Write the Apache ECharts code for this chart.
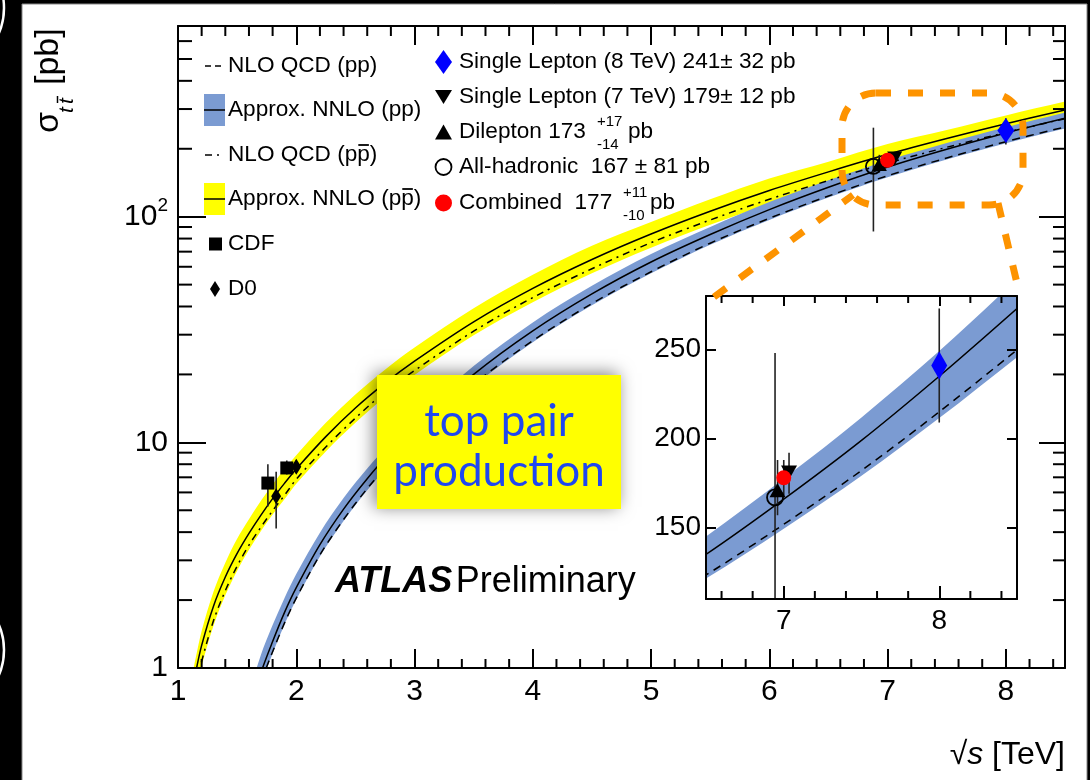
<!DOCTYPE html>
<html><head><meta charset="utf-8">
<script src="https://cdn.jsdelivr.net/npm/echarts@6/dist/echarts.min.js"></script>
<style>html,body{margin:0;padding:0;background:#000;}#c{width:1090px;height:780px;}</style>
</head><body><div id="c"></div>
<script>
// ---------------- data ----------------
const ppX       = [1.6, 1.7, 1.8, 1.9, 2.0, 2.2, 2.4, 2.6, 2.8, 3.0, 3.5, 4.0, 4.5, 5.0, 5.5, 6.0, 6.5, 7.0, 7.5, 8.0, 8.5];
const ppNNLO    = [0.64, 0.95, 1.31, 1.76, 2.27, 3.52, 5.06, 6.9, 9.1, 11.7, 20.0, 31.2, 45.5, 63.0, 83.4, 107.5, 135, 166, 199, 235, 273];
const ppNNLOUp  = [0.77, 1.14, 1.55, 2.04, 2.61, 3.98, 5.67, 7.66, 10.0, 12.9, 21.8, 34.0, 49.4, 68.4, 90.1, 116.1, 145.1, 177.6, 211.9, 249.1, 289.4];
const ppNNLODn  = [0.57, 0.84, 1.16, 1.56, 2.01, 3.12, 4.48, 6.14, 8.10, 10.4, 17.8, 27.8, 40.5, 56.1, 75.1, 96.8, 121.5, 149.4, 179.1, 211.5, 245.7];
const ppNLO     = [0.58, 0.86, 1.18, 1.58, 2.04, 3.17, 4.55, 6.24, 8.24, 10.6, 18.1, 28.2, 41.2, 57.0, 76.3, 98.4, 123.5, 151.9, 182.1, 215.0, 249.8];

const ppbarX      = [1.1, 1.15, 1.2, 1.3, 1.4, 1.5, 1.6, 1.7, 1.8, 1.9, 2.0, 2.25, 2.5, 2.75, 3.0, 3.5, 4.0, 4.5, 5.0, 5.5, 6.0, 6.5, 7.0, 7.5, 8.0, 8.5];
const ppbarNNLO   = [0.71, 0.96, 1.26, 1.88, 2.53, 3.22, 3.95, 4.75, 5.63, 6.58, 7.62, 10.6, 14.2, 18.3, 22.9, 34.2, 48.1, 64.6, 83.8, 105.7, 130.6, 158, 189, 222, 258, 297];
const ppbarNNLOUp = [0.82, 1.11, 1.46, 2.18, 2.93, 3.74, 4.56, 5.49, 6.50, 7.60, 8.76, 12.2, 16.3, 21.0, 26.3, 39.3, 55.3, 74.3, 94.7, 119.4, 147.6, 175.4, 209.8, 242.0, 281.2, 323.7];
const ppbarNNLODn = [0.57, 0.77, 1.02, 1.54, 2.10, 2.70, 3.34, 4.04, 4.79, 5.59, 6.55, 9.12, 12.2, 15.9, 19.9, 29.8, 41.8, 56.2, 72.9, 92.0, 113.6, 137.5, 164.4, 193.1, 224.5, 258.4];
const ppbarNLO    = [0.60, 0.82, 1.07, 1.62, 2.20, 2.83, 3.50, 4.20, 4.98, 5.82, 6.86, 9.54, 12.8, 16.7, 20.8, 31.1, 43.8, 58.8, 76.7, 96.7, 119.5, 144.6, 172.9, 203.1, 236.1, 271.8];

const cdfX = [1.76, 1.92], cdfY = [6.6, 7.7], cdfLo = [5.2, 7.2], cdfHi = [8.0, 8.3];
const d0X  = [1.83, 2.0],  d0Y  = [5.77, 7.8], d0Lo = [4.15, 7.3], d0Hi = [7.4, 8.3];

// ATLAS: 0 SL 8TeV, 1 SL 7TeV, 2 dilepton, 3 all-hadronic, 4 combined
const atlasXMain  = [8.0, 7.06, 6.93, 6.88, 7.0];
const atlasXInset = [8.0, 7.034, 6.96, 6.944, 7.0];
const atlasY      = [241, 181, 171, 167, 178];
const atlasLo     = [209, 169, 157, 86, 168];
const atlasHi     = [273, 192, 188, 248, 188];

const theoryLegend = ['NLO QCD (pp)', 'Approx. NNLO (pp)', 'NLO QCD (pp)', 'Approx. NNLO (pp)', 'CDF', 'D0'];
const atlasLegend  = ['Single Lepton (8 TeV) 241\u00b1 32 pb', 'Single Lepton (7 TeV) 179\u00b1 12 pb', 'Dilepton 173', 'All-hadronic  167 \u00b1 81 pb', 'Combined  177'];
const asymErr      = [['+17', '-14'], ['+11', '-10']];
const xTickLabels  = [1, 2, 3, 4, 5, 6, 7, 8];

// ---------------- helpers ----------------
const FONT = 'Liberation Sans';
const LGF = 22.6;
const BLUE = '#7b9bd2', YELLOW = '#ffff00', ORANGE = '#fd9300';
const SM = 0.33;
const zip = (xs, ys) => xs.map((x, i) => [x, ys[i]]);
const mctx = document.createElement('canvas').getContext('2d');
function tw(s, size) { mctx.font = size + 'px "' + FONT + '"'; return mctx.measureText(s).width; }
function clipOf(cs) { return {type: 'rect', shape: {x: cs.x, y: cs.y, width: cs.width, height: cs.height}}; }

function band(xi, yi, xs, up, dn, color, z) {
  return {type: 'custom', xAxisIndex: xi, yAxisIndex: yi, z, silent: true,
    data: [[xs[xs.length - 1], up[up.length - 1]]],
    renderItem: (params, api) => {
      const n = xs.length, pts = [];
      const u = xs.map((x, i) => api.coord([x, up[i]]));
      const d = xs.map((x, i) => api.coord([x, dn[i]]));
      pts.push(u[0]);
      for (let i = 0; i < n; i++) pts.push(u[i]);
      pts.push(u[n - 1]);
      pts.push(d[n - 1]);
      for (let i = n - 1; i >= 0; i--) pts.push(d[i]);
      pts.push(d[0]);
      return {type: 'polygon', shape: {points: pts, smooth: SM}, style: {fill: color}, clipPath: clipOf(params.coordSys)};
    }};
}
function curve(xi, yi, xs, ys, dash, z) {
  return {type: 'custom', xAxisIndex: xi, yAxisIndex: yi, z, silent: true,
    data: [[xs[xs.length - 1], ys[ys.length - 1]]],
    renderItem: (params, api) => ({type: 'polyline',
      shape: {points: xs.map((x, i) => api.coord([x, ys[i]])), smooth: SM},
      style: {stroke: '#000', lineWidth: 1.5, fill: null, lineDash: dash},
      clipPath: clipOf(params.coordSys)})};
}
function errs(xi, yi, xs, lo, hi, z) {
  return {type: 'custom', xAxisIndex: xi, yAxisIndex: yi, z, silent: true,
    data: xs.map((x, i) => [x, lo[i], hi[i]]), encode: {x: 0, y: [1, 2]},
    renderItem: (params, api) => {
      const a = api.coord([api.value(0), api.value(1)]);
      const b = api.coord([api.value(0), api.value(2)]);
      return {type: 'line', shape: {x1: a[0], y1: a[1], x2: b[0], y2: b[1]},
        style: {stroke: '#222', lineWidth: 1.6}, clipPath: clipOf(params.coordSys)};
    }};
}
function marks(xi, yi, data, symbol, size, color, border, rot, z) {
  return {type: 'scatter', xAxisIndex: xi, yAxisIndex: yi, z, silent: true, data, symbol, symbolSize: size,
    symbolRotate: rot || 0,
    itemStyle: {color, borderColor: border ? '#000' : color, borderWidth: border ? 1.8 : 0, opacity: 1}};
}
function minorTicks(xi, yi, xVals, yVals, xExt, yExt, L, z) {
  return {type: 'custom', xAxisIndex: xi, yAxisIndex: yi, z, silent: true, data: [[xExt[0], yExt[0]]],
    renderItem: (params, api) => {
      const st = {stroke: '#000', lineWidth: 2};
      const ch = [];
      xVals.forEach(v => {
        const b = api.coord([v, yExt[0]]), t = api.coord([v, yExt[1]]);
        ch.push({type: 'line', shape: {x1: b[0], y1: b[1], x2: b[0], y2: b[1] - L.b}, style: st});
        ch.push({type: 'line', shape: {x1: t[0], y1: t[1], x2: t[0], y2: t[1] + L.t}, style: st});
      });
      yVals.forEach(v => {
        const l = api.coord([xExt[0], v]), r = api.coord([xExt[1], v]);
        ch.push({type: 'line', shape: {x1: l[0], y1: l[1], x2: l[0] + L.l, y2: l[1]}, style: st});
        ch.push({type: 'line', shape: {x1: r[0], y1: r[1], x2: r[0] - L.r, y2: r[1]}, style: st});
      });
      return {type: 'group', children: ch};
    }};
}

// minor tick values (axis decoration)
const mainXMinor = []; for (let k = 6; k <= 42; k++) if (k % 5) mainXMinor.push(k / 5);
const mainYMinor = []; [1, 10, 100].forEach(d => { for (let m = 2; m <= 9; m++) if (m * d <= 700) mainYMinor.push(m * d); });
const insetXMinor = []; for (let k = 33; k <= 42; k++) if (k % 5) insetXMinor.push(k / 5);

const axLine = {onZero: false, lineStyle: {color: '#000', width: 2}};
const intFmt = v => (Math.abs(v - Math.round(v)) < 1e-9 && xTickLabels.indexOf(Math.round(v)) >= 0) ? String(Math.round(v)) : '';
const logFmt = v => {
  const e = Math.log10(v), r = Math.round(e);
  if (Math.abs(e - r) > 1e-6) return '';
  if (r === 0) return '{b|1}';
  if (r === 1) return '{b|10}';
  return '{b|10}{s|' + r + '}';
};

// ---------------- series ----------------
const series = [
  band(0, 0, ppbarX, ppbarNNLOUp, ppbarNNLODn, YELLOW, 2),
  band(0, 0, ppX, ppNNLOUp, ppNNLODn, BLUE, 2),
  curve(0, 0, ppbarX, ppbarNNLO, null, 2),
  curve(0, 0, ppbarX, ppbarNLO, [7, 5, 2, 5], 2),
  curve(0, 0, ppX, ppNNLO, null, 2),
  curve(0, 0, ppX, ppNLO, [8, 6], 2),
  errs(0, 0, cdfX.concat(d0X), cdfLo.concat(d0Lo), cdfHi.concat(d0Hi), 2),
  marks(0, 0, zip(cdfX, cdfY), 'rect', 13, '#000', false, 0, 2),
  marks(0, 0, zip(d0X, d0Y), 'diamond', [10, 16], '#000', false, 0, 2),
  errs(0, 0, atlasXMain, atlasLo, atlasHi, 2),
  marks(0, 0, [[atlasXMain[1], atlasY[1]]], 'triangle', [15, 14], '#000', false, 180, 2),
  marks(0, 0, [[atlasXMain[2], atlasY[2]]], 'triangle', [15, 14], '#000', false, 0, 2),
  marks(0, 0, [[atlasXMain[3], atlasY[3]]], 'circle', 15, 'rgba(0,0,0,0)', true, 0, 2),
  marks(0, 0, [[atlasXMain[4], atlasY[4]]], 'circle', 15, '#ff0000', false, 0, 2),
  marks(0, 0, [[atlasXMain[0], atlasY[0]]], 'diamond', [17, 25], '#0000ff', false, 0, 2),
  minorTicks(0, 0, mainXMinor, mainYMinor, [1, 8.5], [1, 700], {b: 9, t: 10, l: 14, r: 12}, 3),
  // inset
  band(2, 2, ppX, ppNNLOUp, ppNNLODn, BLUE, 8),
  curve(2, 2, ppX, ppNNLO, null, 8),
  curve(2, 2, ppX, ppNLO, [8, 6], 8),
  errs(2, 2, atlasXInset, atlasLo, atlasHi, 9),
  marks(2, 2, [[atlasXInset[1], atlasY[1]]], 'triangle', [16, 14], '#000', false, 180, 9),
  marks(2, 2, [[atlasXInset[2], atlasY[2]]], 'triangle', [16, 14], '#000', false, 0, 9),
  marks(2, 2, [[atlasXInset[3], atlasY[3]]], 'circle', 16, 'rgba(0,0,0,0)', true, 0, 9),
  marks(2, 2, [[atlasXInset[4], atlasY[4]]], 'circle', 15, '#ff0000', false, 0, 9),
  marks(2, 2, [[atlasXInset[0], atlasY[0]]], 'diamond', [16, 28], '#0000ff', false, 0, 9),
  minorTicks(2, 2, insetXMinor, [], [6.5, 8.5], [110, 280], {b: 8, t: 7, l: 0, r: 0}, 11)
];

// ---------------- graphics ----------------
const T = (x, y, text, size, extra) => Object.assign({type: 'text', x, y, z: 20,
  style: Object.assign({text, fontSize: size, fontFamily: FONT, fill: '#000', verticalAlign: 'middle', align: 'left'}, (extra || {}))});
const L = (x1, y1, x2, y2, st, z) => ({type: 'line', z: z || 20, shape: {x1, y1, x2, y2}, style: Object.assign({stroke: '#000', lineWidth: 1.5}, st)});

const lgX = 228, lgY = [66, 110, 155, 199, 244, 289];
const g = [
  {type: 'rect', z: -10, shape: {x: 22, y: 4, width: 1065, height: 780}, style: {fill: '#fff', stroke: '#888', lineWidth: 1}},
  {type: 'circle', z: -9, shape: {cx: -58, cy: 8, r: 62}, style: {fill: 'none', stroke: '#fff', lineWidth: 2.5}},
  {type: 'circle', z: -9, shape: {cx: -58, cy: 650, r: 62}, style: {fill: 'none', stroke: '#fff', lineWidth: 2.5}},
  // inset background
  {type: 'rect', z: 5, shape: {x: 706, y: 296, width: 311, height: 303}, style: {fill: '#fff'}},
  // orange zoom callout
  {type: 'rect', z: 12, shape: {x: 842, y: 93, width: 181, height: 112, r: 34}, style: {fill: 'none', stroke: ORANGE, lineWidth: 7, lineDash: [15, 17]}},
  L(714, 297, 853, 195, {stroke: ORANGE, lineWidth: 7, lineDash: [15, 17]}, 12),
  L(998, 203, 1020, 296, {stroke: ORANGE, lineWidth: 7, lineDash: [15, 17]}, 12),
  // top pair box
  {type: 'rect', z: 14, shape: {x: 377, y: 375, width: 244, height: 134},
   style: {fill: '#ffff00', shadowBlur: 16, shadowOffsetX: -3, shadowOffsetY: -2, shadowColor: 'rgba(0,0,0,0.5)'}},
  {type: 'text', z: 15, x: 499, y: 422, style: {text: 'top pair', fontSize: 44, fontFamily: 'Lato', fill: '#1f47f0', align: 'center', verticalAlign: 'middle'}},
  {type: 'text', z: 15, x: 499, y: 472, style: {text: 'produc\u200ction', fontSize: 44, fontFamily: 'Lato', fill: '#1f47f0', align: 'center', verticalAlign: 'middle'}},
  // ATLAS Preliminary
  {type: 'text', z: 15, x: 335, y: 582, style: {text: '{a|ATLAS} {b|Preliminary}', verticalAlign: 'middle', align: 'left',
    rich: {a: {fontSize: 36, fontFamily: FONT, fontWeight: 'bold', fontStyle: 'italic', fill: '#000'},
           b: {fontSize: 36, fontFamily: FONT, fill: '#000'}}}},
  // x title
  {type: 'text', z: 15, x: 1065, y: 755, style: {text: '{a|\u221a}{b|s}{a| [TeV]}', align: 'right', verticalAlign: 'middle',
    rich: {a: {fontSize: 32, fontFamily: FONT, fill: '#000'}, b: {fontSize: 32, fontFamily: FONT, fontStyle: 'italic', fill: '#000'}}}},
  // y title
  {type: 'group', z: 15, x: 48.5, y: 133, rotation: Math.PI / 2, children: [
    {type: 'text', z: 15, x: 0, y: 0, style: {text: '\u03c3', fontSize: 34, fontFamily: FONT, fill: '#000', verticalAlign: 'middle'}},
    {type: 'text', z: 15, x: 20, y: 19, style: {text: 't', fontSize: 21, fontFamily: FONT, fontStyle: 'italic', fill: '#000', verticalAlign: 'middle'}},
    {type: 'text', z: 15, x: 29, y: 19, style: {text: 't', fontSize: 21, fontFamily: FONT, fontStyle: 'italic', fill: '#000', verticalAlign: 'middle'}},
    {type: 'line', z: 15, shape: {x1: 30, y1: 9, x2: 37, y2: 9}, style: {stroke: '#000', lineWidth: 1.5}},
    {type: 'text', z: 15, x: 48, y: 0, style: {text: '[pb]', fontSize: 34, fontFamily: FONT, fill: '#000', verticalAlign: 'middle'}}
  ]},
  // left legend symbols
  L(205, lgY[0], 223, lgY[0], {lineDash: [6, 4]}),
  {type: 'rect', z: 20, shape: {x: 204, y: lgY[1] - 16, width: 21, height: 32}, style: {fill: BLUE}},
  L(204, lgY[1], 225, lgY[1], {}),
  L(205, lgY[2], 223, lgY[2], {lineDash: [7, 5, 2, 5]}),
  {type: 'rect', z: 20, shape: {x: 204, y: lgY[3] - 16, width: 21, height: 32}, style: {fill: YELLOW}},
  L(204, lgY[3], 225, lgY[3], {}),
  {type: 'rect', z: 20, shape: {x: 209, y: lgY[4] - 6.5, width: 13, height: 13}, style: {fill: '#000'}},
  {type: 'polygon', z: 20, shape: {points: [[215, lgY[5] - 8], [220, lgY[5]], [215, lgY[5] + 8], [210, lgY[5]]]}, style: {fill: '#000'}}
];
theoryLegend.forEach((s, i) => g.push(T(lgX, lgY[i], s, LGF)));
// pbar overlines
[2, 3].forEach(i => {
  const s = theoryLegend[i];
  const x0 = lgX + tw(s.slice(0, s.length - 2), LGF), x1 = lgX + tw(s.slice(0, s.length - 1), LGF);
  g.push(L(x0 + 1, lgY[i] - 10, x1 - 1, lgY[i] - 10, {lineWidth: 1.8}));
});

// right legend
const rX = 459, rY = [62, 97, 132, 167, 203], mX = 443.5;
g.push({type: 'polygon', z: 20, shape: {points: [[mX, rY[0] - 12], [mX + 8.5, rY[0]], [mX, rY[0] + 12], [mX - 8.5, rY[0]]]}, style: {fill: '#0000ff'}});
g.push({type: 'polygon', z: 20, shape: {points: [[mX - 8.5, rY[1] - 7], [mX + 8.5, rY[1] - 7], [mX, rY[1] + 7]]}, style: {fill: '#000'}});
g.push({type: 'polygon', z: 20, shape: {points: [[mX - 8.5, rY[2] + 7.5], [mX + 8.5, rY[2] + 7.5], [mX, rY[2] - 7.5]]}, style: {fill: '#000'}});
g.push({type: 'circle', z: 20, shape: {cx: mX, cy: rY[3], r: 8}, style: {fill: 'none', stroke: '#000', lineWidth: 1.8}});
g.push({type: 'circle', z: 20, shape: {cx: mX, cy: rY[4], r: 8.5}, style: {fill: '#ff0000'}});
atlasLegend.forEach((s, i) => g.push(T(rX, rY[i], s, LGF)));
[[2, 597, 628], [4, 623, 650]].forEach((p, k) => {
  const y = rY[p[0]];
  g.push(T(p[1], y - 10, asymErr[k][0], 15));
  g.push(T(p[1], y + 13, asymErr[k][1], 15));
  g.push(T(p[2], y, 'pb', LGF));
});

// ---------------- option ----------------
const option = {
  animation: false,
  backgroundColor: '#000',
  textStyle: {fontFamily: FONT},
  grid: [
    {left: 178, top: 26, width: 887, height: 642},
    {left: 706, top: 296, width: 311, height: 303}
  ],
  xAxis: [
    {type: 'value', gridIndex: 0, min: 1, max: 8.5, interval: 1, position: 'bottom', z: 3, axisLine: axLine,
     axisTick: {inside: true, length: 19, lineStyle: {color: '#000', width: 2}},
     axisLabel: {fontSize: 30, fontFamily: FONT, color: '#000', margin: 9, formatter: intFmt, showMaxLabel: true}, splitLine: {show: false}},
    {type: 'value', gridIndex: 0, min: 1, max: 8.5, interval: 1, position: 'top', z: 3, axisLine: axLine,
     axisTick: {inside: true, length: 19, lineStyle: {color: '#000', width: 2}}, axisLabel: {show: false}, splitLine: {show: false}},
    {type: 'value', gridIndex: 1, min: 6.5, max: 8.5, splitNumber: 2, position: 'bottom', z: 11, axisLine: axLine,
     axisTick: {inside: true, length: 13, lineStyle: {color: '#000', width: 2}},
     axisLabel: {fontSize: 28, fontFamily: FONT, color: '#000', margin: 8, formatter: intFmt}, splitLine: {show: false}},
    {type: 'value', gridIndex: 1, min: 6.5, max: 8.5, splitNumber: 2, position: 'top', z: 11, axisLine: axLine,
     axisTick: {inside: true, length: 10, lineStyle: {color: '#000', width: 2}}, axisLabel: {show: false}, splitLine: {show: false}}
  ],
  yAxis: [
    {type: 'log', logBase: 10, gridIndex: 0, min: 1, max: 700, position: 'left', z: 3, axisLine: axLine,
     axisTick: {inside: true, length: 28, lineStyle: {color: '#000', width: 2}},
     axisLabel: {margin: 10, formatter: logFmt, showMinLabel: true,
       rich: {b: {fontSize: 30, fontFamily: FONT, color: '#000', lineHeight: 40},
              s: {fontSize: 19, fontFamily: FONT, color: '#000', lineHeight: 20, verticalAlign: 'top'}}},
     splitLine: {show: false}},
    {type: 'log', logBase: 10, gridIndex: 0, min: 1, max: 700, position: 'right', z: 3, axisLine: axLine,
     axisTick: {inside: true, length: 26, lineStyle: {color: '#000', width: 2}}, axisLabel: {show: false}, splitLine: {show: false}},
    {type: 'value', gridIndex: 1, min: 110, max: 280, splitNumber: 3, position: 'left', z: 11, axisLine: axLine,
     axisTick: {inside: true, length: 10, lineStyle: {color: '#000', width: 2}},
     axisLabel: {fontSize: 28, fontFamily: FONT, color: '#000', margin: 5, formatter: v => (v % 50 === 0 ? String(v) : '')},
     splitLine: {show: false}},
    {type: 'value', gridIndex: 1, min: 110, max: 280, splitNumber: 3, position: 'right', z: 11, axisLine: axLine,
     axisTick: {inside: true, length: 10, lineStyle: {color: '#000', width: 2}}, axisLabel: {show: false}, splitLine: {show: false}}
  ],
  series,
  graphic: g
};
const chart = echarts.init(document.getElementById('c'), null, {renderer: 'canvas'});
chart.setOption(option);
</script></body></html>
